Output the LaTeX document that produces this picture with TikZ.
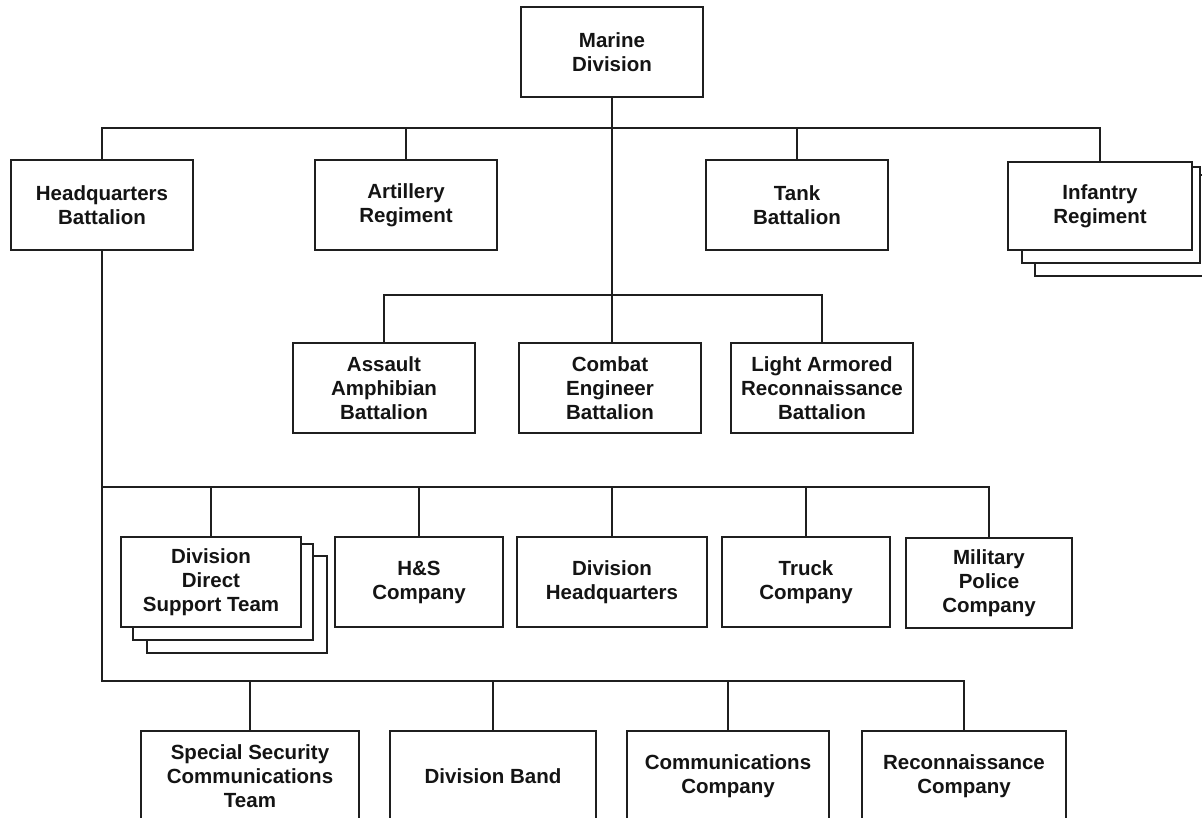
\documentclass[tikz,border=0pt]{standalone}
\usepackage{fontspec}
\setmainfont{Liberation Sans}
\begin{document}
\tikzset{
  unit/.style={draw=black!88, line width=2pt, fill=white, inner sep=0pt, align=center,
    font=\fontsize{20.5}{24}\selectfont\bfseries, text=black!92, minimum height=90pt},
  shadowbox/.style={draw=black!88, line width=2pt, fill=white},
  link/.style={draw=black!88, line width=2pt},
}
\begin{tikzpicture}[x=1pt,y=-1pt]
\useasboundingbox (0,0) rectangle (1202,818);
\fill[white] (0,0) rectangle (1202,818);

% bus levels
\coordinate (b1) at (0,128);
\coordinate (b2) at (0,295);
\coordinate (b3) at (0,487);
\coordinate (b4) at (0,681);

% top
\node[unit, minimum width=182pt] (marine) at (612,52) {Marine\\Division};

% row 1
\node[unit, minimum width=182pt] (hq) at (102,205) {Headquarters\\Battalion};
\node[unit, minimum width=182pt] (art) at (406,205) {Artillery\\Regiment};
\node[unit, minimum width=182pt] (tank) at (797,205) {Tank\\Battalion};
\draw[shadowbox] (1035,175) rectangle (1215,276);
\draw[shadowbox] (1022,167) rectangle (1200,263);
\node[unit, minimum width=184pt, minimum height=88pt] (inf) at (1100,206) {Infantry\\Regiment};

% row 2
\node[unit, minimum width=182pt] (aa) at (384,388) {Assault\\Amphibian\\Battalion};
\node[unit, minimum width=182pt] (ce) at (610,388) {Combat\\Engineer\\Battalion};
\node[unit, minimum width=182pt] (lar) at (822,388) {Light Armored\\Reconnaissance\\Battalion};

% row 3
\draw[shadowbox] (147,556) rectangle (327,653);
\draw[shadowbox] (133,544) rectangle (313,640);
\node[unit, minimum width=180pt] (ddst) at (211,582) {Division\\Direct\\Support Team};
\node[unit, minimum width=168pt] (hs) at (419,582) {H\&S\\Company};
\node[unit, minimum width=190pt] (dhq) at (612,582) {Division\\Headquarters};
\node[unit, minimum width=168pt] (truck) at (806,582) {Truck\\Company};
\node[unit, minimum width=166pt] (mp) at (989,583) {Military\\Police\\Company};

% row 4
\node[unit, minimum width=218pt] (ssct) at (250,776) {Special Security\\Communications\\Team};
\node[unit, minimum width=206pt] (band) at (493,776) {Division Band};
\node[unit, minimum width=202pt] (comm) at (728,776) {Communications\\Company};
\node[unit, minimum width=204pt] (recon) at (964,776) {Reconnaissance\\Company};

% connectors level 1
\draw[link] (marine.south) -- (marine.south |- ce.north);
\draw[link] (hq.north) -- (hq.north |- b1) -- (inf.north |- b1) -- (inf.north);
\draw[link] (art.north |- b1) -- (art.north);
\draw[link] (tank.north |- b1) -- (tank.north);

% connectors level 2
\draw[link] (aa.north) -- (aa.north |- b2) -- (lar.north |- b2) -- (lar.north);

% HQ battalion trunk
\draw[link] (hq.south) -- (hq.south |- b4) -- (recon.north |- b4) -- (recon.north);
\draw[link] (hq.south |- b3) -- (mp.north |- b3) -- (mp.north);
\draw[link] (ddst.north |- b3) -- (ddst.north);
\draw[link] (hs.north |- b3) -- (hs.north);
\draw[link] (dhq.north |- b3) -- (dhq.north);
\draw[link] (truck.north |- b3) -- (truck.north);
\draw[link] (ssct.north |- b4) -- (ssct.north);
\draw[link] (band.north |- b4) -- (band.north);
\draw[link] (comm.north |- b4) -- (comm.north);
\end{tikzpicture}
\end{document}
